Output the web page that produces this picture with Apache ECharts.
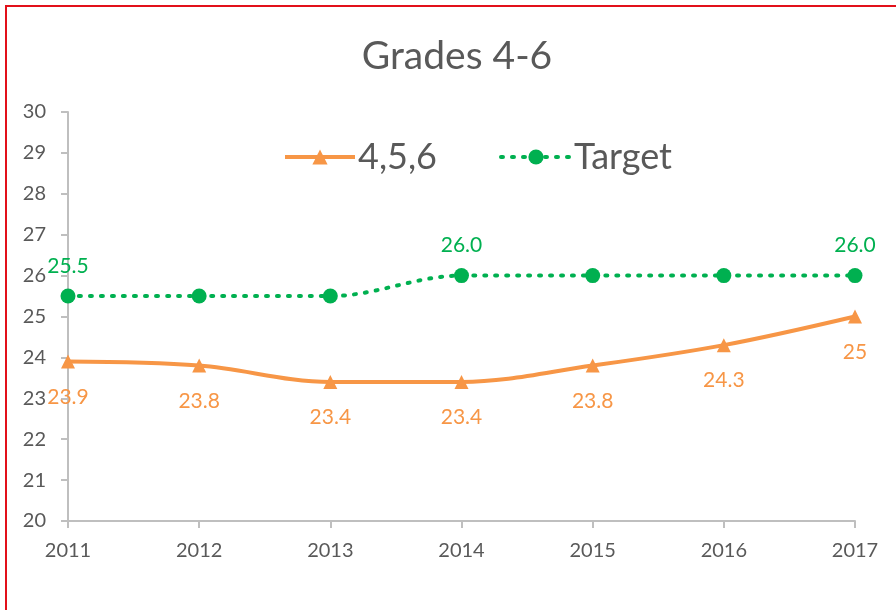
<!DOCTYPE html>
<html><head><meta charset="utf-8">
<script src="https://cdn.jsdelivr.net/npm/echarts@6/dist/echarts.min.js"></script>
<style>
html,body{margin:0;padding:0;background:#fff;overflow:hidden}
#frame{position:absolute;left:5px;top:5px;width:1000px;height:1000px;border:2px solid #e2101a;box-sizing:border-box}
#chart{position:absolute;left:0;top:0;width:896px;height:610px}
</style></head>
<body>
<div id="frame"></div>
<div id="chart"></div>
<script>
const categories = ['2011','2012','2013','2014','2015','2016','2017'];
const grades456 = [23.9, 23.8, 23.4, 23.4, 23.8, 24.3, 25];
const target = [25.5, 25.5, 25.5, 26.0, 26.0, 26.0, 26.0];
const targetLabelIdx = [0, 3, 6];
const yTicks = {min: 20, max: 30, interval: 1};

const FONT = 'Lato, "Open Sans", sans-serif';
const chart = echarts.init(document.getElementById('chart'));
chart.setOption({
  backgroundColor: 'transparent',
  title: {text: 'Grades 4-6', left: 452, top: 32, textAlign: 'center',
    textStyle: {fontFamily: FONT, fontSize: 39, fontWeight: 'normal', color: '#595959'}},
  legend: {top: 139, left: 283, padding: 0, itemWidth: 70, itemHeight: 19, itemGap: 62,
    lineStyle: {width: 4},
    textStyle: {fontFamily: FONT, fontSize: 36, color: '#595959', padding: [0, 0, 0, -2]},
    data: ['4,5,6', 'Target']},
  grid: {left: 68, right: 41, top: 112, bottom: 89},
  xAxis: {type: 'category', data: categories, boundaryGap: false,
    axisLine: {lineStyle: {color: '#bfbfbf', width: 2}},
    axisTick: {show: true, length: 7, lineStyle: {color: '#bfbfbf', width: 2}},
    axisLabel: {fontFamily: FONT, fontSize: 20, color: '#595959', margin: 20}},
  yAxis: {type: 'value', min: yTicks.min, max: yTicks.max, interval: yTicks.interval,
    splitLine: {show: false},
    axisLine: {show: true, lineStyle: {color: '#bfbfbf', width: 2}},
    axisTick: {show: true, length: 7, lineStyle: {color: '#bfbfbf', width: 2}},
    axisLabel: {fontFamily: FONT, fontSize: 20, color: '#595959', margin: 22}},
  series: [
    {name: '4,5,6', type: 'line', smooth: 0.35, data: grades456,
      symbol: 'triangle', symbolSize: 14,
      lineStyle: {color: '#f79646', width: 4}, itemStyle: {color: '#f79646'},
      label: {show: true, position: 'bottom', distance: 18, fontFamily: FONT, fontSize: 21, color: '#f79646'}},
    {name: 'Target', type: 'line', smooth: 0.35,
      data: target.map((v, i) => ({value: v, label: {show: targetLabelIdx.includes(i)}})),
      symbol: 'circle', symbolSize: 15,
      lineStyle: {color: '#00b050', width: 4, type: [2, 9], cap: 'round'}, itemStyle: {color: '#00b050'},
      label: {position: 'top', distance: 12, fontFamily: FONT, fontSize: 21, color: '#00b050',
        formatter: p => p.value.toFixed(1)}}
  ]
});
</script>
</body></html>
